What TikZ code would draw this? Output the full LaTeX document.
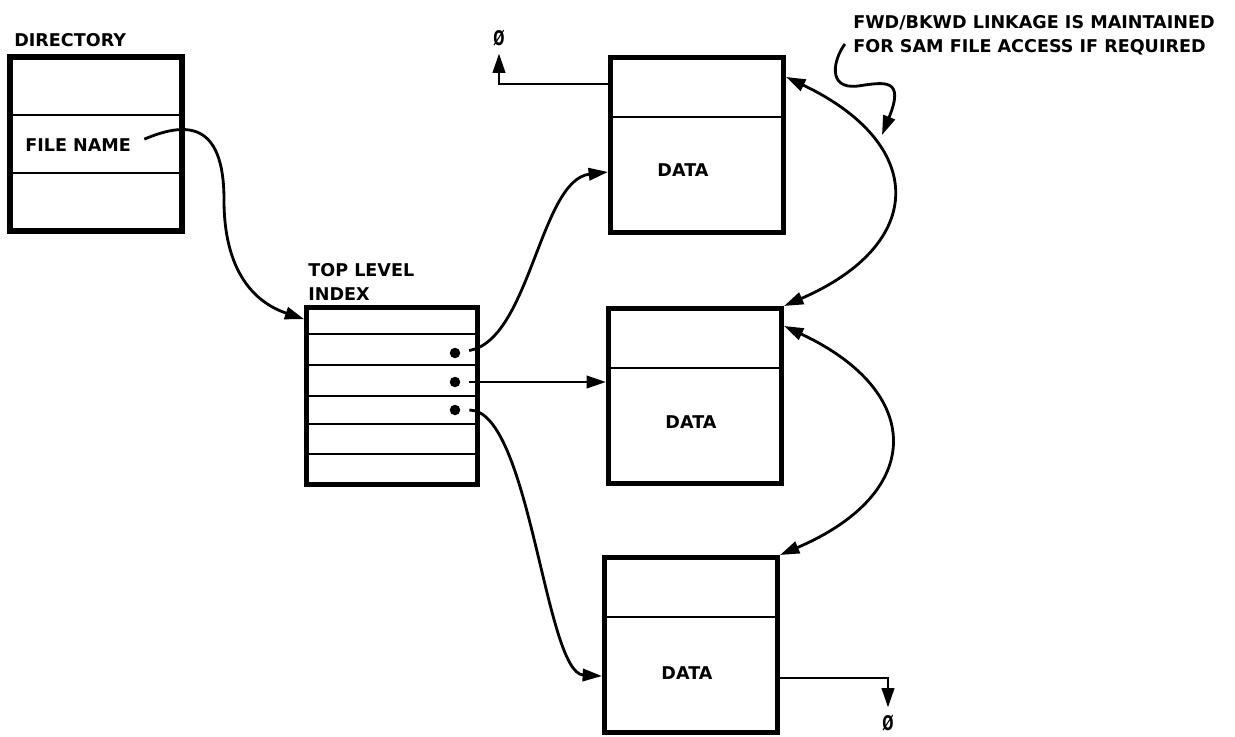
\documentclass[tikz,border=0pt]{standalone}
\usepackage{fontspec}
\setsansfont{DejaVu Sans}
\usetikzlibrary{arrows.meta,calc}

\tikzset{
  box/.style={draw, line width=2.9pt, minimum width=3.46cm, minimum height=3.5cm, inner sep=0pt},
  divider/.style={line width=1.7pt},
  link/.style={line width=1.6pt, -{Triangle[length=11pt,width=7pt]}},
  dlink/.style={line width=1.6pt, {Triangle[length=11pt,width=7pt]}-{Triangle[length=11pt,width=7pt]}},
  lbl/.style={font=\sffamily\bfseries\fontsize{10}{13.5}\selectfont, inner sep=0pt},
  nil/.style={lbl, inner sep=4pt},
  dot/.style={circle, fill, inner sep=0pt, minimum size=0.21cm},
}

\begin{document}
\begin{tikzpicture}[x=0.02cm, y=-0.02cm]
  \useasboundingbox (0,0) rectangle (1235,737);

  % Directory
  \node[box, minimum width=3.44cm, minimum height=3.48cm] (dir) at (96,144) {};
  \draw[divider] (10,115) -- (182,115);
  \draw[divider] (10,173) -- (182,173);
  \node[lbl, anchor=base west] (dirlbl) at (14,47) {DIRECTORY};
  \node[lbl, anchor=base west] (fname) at (25,151) {FILE NAME};

  % Top level index
  \node[box, line width=2.6pt, minimum width=3.42cm, minimum height=3.54cm] (idx) at (392,396) {};
  \foreach \y in {334,365,396,424,454}
    \draw[divider] (307,\y) -- (478,\y);
  \node[lbl, anchor=north west, align=left] (idxlbl) at (308,263) {TOP LEVEL\\INDEX};
  \node[dot] (p1) at (455,353) {};
  \node[dot] (p2) at (455,382) {};
  \node[dot] (p3) at (455,410) {};

  % Data blocks
  \node[box] (d1) at (697,145) {};
  \node[box] (d2) at (695,396) {};
  \node[box] (d3) at (691,645) {};
  \draw[divider] (610,117) -- (784,117);
  \draw[divider] (608,368) -- (782,368);
  \draw[divider] (604,617) -- (778,617);
  \node[lbl] (data1) at (683,170) {DATA};
  \node[lbl] (data2) at (691,422) {DATA};
  \node[lbl] (data3) at (687,673) {DATA};

  % End of chain
  \node[nil] (nil1) at (499,38) {\scalebox{0.75}[1.15]{Ø}};
  \node[nil] (nil2) at (888,723) {\scalebox{0.75}[1.15]{Ø}};
  \draw[link] ($(d1.north west)+(0,29)$) -| (nil1.south);
  \draw[link] ($(d3.south east)+(0,-57)$) -| (nil2.north);

  % Directory to index
  \draw[link, shorten <=8pt] (fname.east) .. controls (185,122) and (224,120) .. (224,200)
    .. controls (224,280) and (262,305) .. ($(idx.north west)+(0,14)$);

  % Index to data
  \draw[link, shorten <=5pt] (p1) .. controls (530,340) and (540,180) .. ($(d1.north west)+(0,117)$);
  \draw[link, shorten <=5pt] (p2) -- (p2 -| d2.west);
  \draw[link, shorten <=5pt] (p3) .. controls (530,410) and (545,673) .. ($(d3.south west)+(0,-59)$);

  % Fwd/bkwd linkage
  \draw[dlink] ($(d1.north east)+(0,22)$) .. controls (927,144) and (927,244) .. (d2.north east);
  \draw[dlink] ($(d2.north east)+(0,20)$) .. controls (925,392) and (925,493) .. (d3.north east);

  % Note
  \node[lbl, anchor=north west, align=left] (note) at (853,15)
    {FWD/BKWD LINKAGE IS MAINTAINED\\FOR SAM FILE ACCESS IF REQUIRED};
  \coordinate (tail) at (845,44);
  \coordinate (hit) at (882,135);
  \draw[link] (tail) .. controls (834,58) and (826,90) .. (858,86)
    .. controls (885,82) and (905,78) .. (hit);
\end{tikzpicture}
\end{document}
